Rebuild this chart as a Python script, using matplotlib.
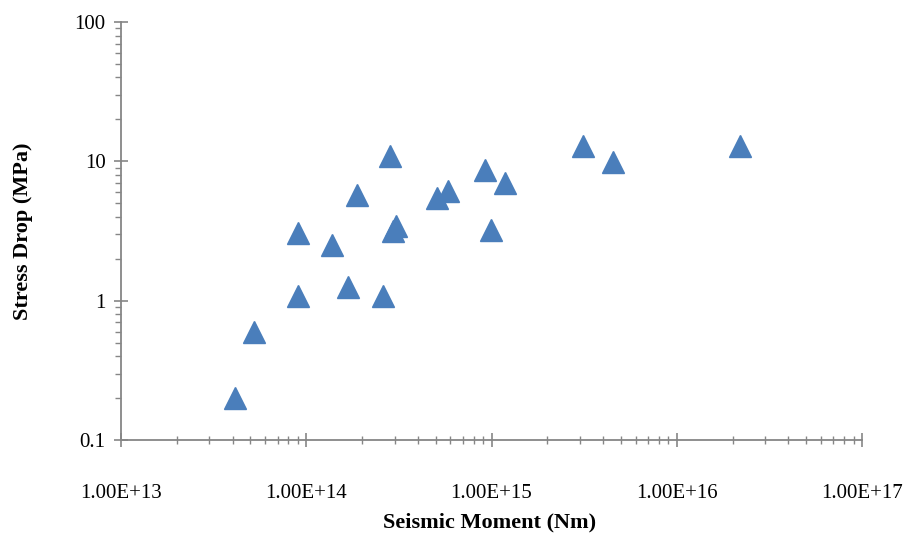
import matplotlib
matplotlib.use("Agg")
import matplotlib.pyplot as plt
from matplotlib.ticker import LogLocator, FixedLocator, NullFormatter

seismic_moment = [4.1e13, 5.2e13, 9.0e13, 9.0e13, 1.38e14, 1.69e14, 1.89e14,
                  2.58e14, 2.84e14, 2.95e14, 3.05e14, 5.1e14, 5.8e14,
                  9.2e14, 1.18e15, 9.9e14, 3.1e15, 4.5e15, 2.2e16]
stress_drop = [0.2, 0.6, 3.06, 1.08, 2.5, 1.25, 5.7,
               1.08, 10.9, 3.15, 3.45, 5.5, 6.1,
               8.7, 7.0, 3.2, 12.9, 9.9, 12.9]
x_ticks = [1e13, 1e14, 1e15, 1e16, 1e17]
x_tick_labels = ["1.00E+13", "1.00E+14", "1.00E+15", "1.00E+16", "1.00E+17"]
y_ticks = [0.1, 1, 10, 100]
y_tick_labels = ["0.1", "1", "10", "100"]

plt.rcParams['font.family'] = ['Liberation Serif', 'DejaVu Serif']

fig = plt.figure(figsize=(9.06, 5.35), dpi=100)
ax = fig.add_axes([121/906, 1-440/535, (862-121)/906, (440-22)/535])

ax.plot(seismic_moment, stress_drop, linestyle='none', marker='^',
        markersize=16, color='#4a7ebb', markeredgecolor='#4a7ebb')

ax.set_xscale('log')
ax.set_yscale('log')
ax.set_xlim(1e13, 1e17)
ax.set_ylim(0.1, 100)

ax.xaxis.set_major_locator(FixedLocator(x_ticks))
ax.set_xticklabels(x_tick_labels)
ax.yaxis.set_major_locator(FixedLocator(y_ticks))
ax.set_yticklabels(y_tick_labels)
ax.xaxis.set_minor_locator(LogLocator(base=10, subs=range(2, 10), numticks=20))
ax.yaxis.set_minor_locator(LogLocator(base=10, subs=range(2, 10), numticks=20))
ax.xaxis.set_minor_formatter(NullFormatter())
ax.yaxis.set_minor_formatter(NullFormatter())

spine_col = '#868686'
for s in ['top', 'right']:
    ax.spines[s].set_visible(False)
for s in ['left', 'bottom']:
    ax.spines[s].set_color(spine_col)
    ax.spines[s].set_linewidth(1.3)

ax.tick_params(axis='x', which='major', direction='inout', length=10, width=1.2,
               color=spine_col, labelsize=15, pad=27)
ax.tick_params(axis='x', which='minor', direction='inout', length=6, width=1.0,
               color=spine_col)
ax.tick_params(axis='y', which='major', direction='inout', length=10, width=1.2,
               color=spine_col, labelsize=15, pad=6)
ax.tick_params(axis='y', which='minor', direction='out', length=4, width=1.0,
               color=spine_col)

fig.text(490/906, 1-522/535, "Seismic Moment (Nm)", fontsize=16, fontweight='bold',
         ha='center', va='center')
fig.text(23/906, 1-231/535, "Stress Drop (MPa)", fontsize=16, fontweight='bold',
         ha='center', va='center', rotation=90)

fig.savefig("out.png", dpi=100)
